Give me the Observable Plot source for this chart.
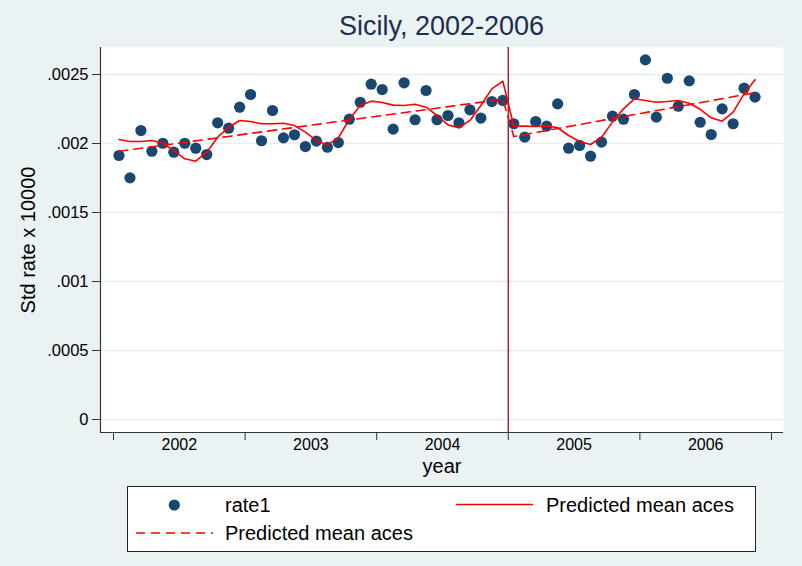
<!DOCTYPE html>
<html><head><meta charset="utf-8">
<script src="https://cdn.jsdelivr.net/npm/d3@7"></script>
<script src="https://cdn.jsdelivr.net/npm/@observablehq/plot@0.6"></script>
<style>
html,body{margin:0;padding:0;background:#eaf2f3;}
body{width:802px;height:566px;position:relative;overflow:hidden;font-family:"Liberation Sans",Arial,Helvetica,sans-serif;}
#title{position:absolute;left:0;top:11px;width:883px;text-align:center;font-size:27px;line-height:30px;color:#1e2d4f;}
#chart{position:absolute;left:0;top:40px;}
#legend{position:absolute;left:127px;top:486px;width:629px;height:66px;box-sizing:border-box;border:1px solid #222;background:#fff;}
#legend svg{display:block;}
</style>
</head><body>
<div id="title">Sicily, 2002-2006</div>
<div id="chart"></div>
<div id="legend"></div>
<script>
// ---- data ----
const months = d3.range(1, 60); // Jan 2002 .. Nov 2006
const rate1 = [
  0.001913, 0.001751, 0.002094, 0.001944, 0.002002, 0.001937, 0.002002, 0.001966, 0.001920, 0.002150, 0.002111, 0.002263,
  0.002355, 0.002020, 0.002239, 0.002041, 0.002063, 0.001978, 0.002017, 0.001973, 0.002007, 0.002176, 0.002299, 0.002430,
  0.002391, 0.002104, 0.002440, 0.002172, 0.002384, 0.002172, 0.002203, 0.002150, 0.002244, 0.002184, 0.002304, 0.002312,
  0.002143, 0.002046, 0.002159, 0.002126, 0.002287, 0.001966, 0.001986, 0.001908, 0.002010, 0.002198, 0.002176, 0.002355,
  0.002606, 0.002191, 0.002473, 0.002270, 0.002454, 0.002154, 0.002065, 0.002251, 0.002143, 0.002401, 0.002336
];
const predicted = [
  0.002029, 0.002014, 0.002014, 0.002022, 0.002002, 0.001949, 0.001889, 0.001872, 0.001937, 0.002046, 0.002118, 0.002167,
  0.002159, 0.002143, 0.002143, 0.002147, 0.002130, 0.002082, 0.002022, 0.001990, 0.002041, 0.002174, 0.002275, 0.002307,
  0.002297, 0.002278, 0.002275, 0.002285, 0.002263, 0.002203, 0.002135, 0.002114, 0.002167, 0.002275, 0.002396, 0.002452,
  0.002125, 0.002126, 0.002123, 0.002128, 0.002114, 0.002058, 0.002014, 0.001993, 0.002046, 0.002155, 0.002251, 0.002324,
  0.002312, 0.002299, 0.002304, 0.002312, 0.002292, 0.002248, 0.002186, 0.002162, 0.002227, 0.002360, 0.002462
];
const trendMonths = [1, 36, 37, 59];
const trendValues = [0.001944, 0.002321, 0.002051, 0.002368];
const breakYear = [2005];
const yearTicks = [2002, 2003, 2004, 2005, 2006, 2007];
const yearLabels = ["2002", "2003", "2004", "2005", "2006"];
const yTicks = [0, 0.0005, 0.001, 0.0015, 0.002, 0.0025];
const yTickLabels = ["0", ".0005", ".001", ".0015", ".002", ".0025"];

// ---- build ----
const toYear = m => 2002 + (m - 0.5) / 12;
const points = months.map((m, i) => ({x: toYear(m), rate: rate1[i], pred: predicted[i]}));
const trend = trendMonths.map((m, i) => ({x: toYear(m), v: trendValues[i]}));
const labelPos = yearLabels.map(s => +s + 0.5);

const xDomain = [2001.9012, 2007.0912];
const yDomain = [-0.0000942, 0.0026957];
const FONT = '"Liberation Sans", Arial, Helvetica, sans-serif';
const AX = "#333";

const plot = Plot.plot({
  width: 802, height: 440,
  marginTop: 7, marginBottom: 48, marginLeft: 100, marginRight: 19,
  style: {fontFamily: FONT, fontSize: "16px", color: "#000", background: "transparent", overflow: "visible"},
  x: {type: "linear", domain: xDomain},
  y: {type: "linear", domain: yDomain},
  marks: [
    Plot.frame({fill: "#fff", stroke: "none"}),
    Plot.gridY(yTicks, {stroke: "#e6eef0", strokeOpacity: 1, strokeWidth: 1.5}),
    Plot.ruleX(breakYear, {stroke: "#a8204a", strokeWidth: 1.5}),
    Plot.dot(points, {x: "x", y: "rate", r: 5.6, fill: "#1a476f", stroke: "none"}),
    Plot.line(points, {x: "x", y: "pred", stroke: "#ff0000", strokeWidth: 1.6}),
    Plot.line(trend, {x: "x", y: "v", stroke: "#ff0000", strokeWidth: 1.6, strokeDasharray: "9,6"}),
    Plot.ruleX([xDomain[0]], {stroke: AX, strokeWidth: 1.2}),
    Plot.ruleY([yDomain[0]], {stroke: AX, strokeWidth: 1.2}),
    Plot.axisY({ticks: yTicks, tickFormat: (d, i) => yTickLabels[i], tickSize: 8, tickPadding: 4, stroke: AX, fill: "#000", label: null, fontSize: 16.5}),
    Plot.axisX({ticks: yearTicks, tickFormat: () => "", tickSize: 8, stroke: AX, label: null}),
    Plot.axisX({ticks: labelPos, tickFormat: (d, i) => yearLabels[i], tickSize: 0, tickPadding: 6, fill: "#000", label: null, fontSize: 16}),
    Plot.text(["year"], {frameAnchor: "bottom", dy: 34, fontSize: 20, fill: "#000", lineAnchor: "middle"}),
    Plot.text(["Std rate x 10000"], {frameAnchor: "left", dx: -72, rotate: -90, fontSize: 20, fill: "#000", lineAnchor: "middle", textAnchor: "middle"})
  ]
});
document.getElementById("chart").appendChild(plot);

// ---- legend ----
const lg = d3.select("#legend").append("svg").attr("width", 627).attr("height", 64)
  .style("font-family", FONT).style("font-size", "20px");
lg.append("circle").attr("cx", 46.3).attr("cy", 18).attr("r", 5.6).attr("fill", "#1a476f");
lg.append("text").attr("x", 97).attr("y", 18).attr("dy", "0.35em").text("rate1");
lg.append("line").attr("x1", 328).attr("x2", 405).attr("y1", 17.5).attr("y2", 17.5).attr("stroke", "#ff0000").attr("stroke-width", 1.6);
lg.append("text").attr("x", 418).attr("y", 18).attr("dy", "0.35em").text("Predicted mean aces");
lg.append("line").attr("x1", 8).attr("x2", 85).attr("y1", 46).attr("y2", 46).attr("stroke", "#ff0000").attr("stroke-width", 1.6).attr("stroke-dasharray", "9,6");
lg.append("text").attr("x", 97).attr("y", 46).attr("dy", "0.35em").text("Predicted mean aces");
</script>
</body></html>
